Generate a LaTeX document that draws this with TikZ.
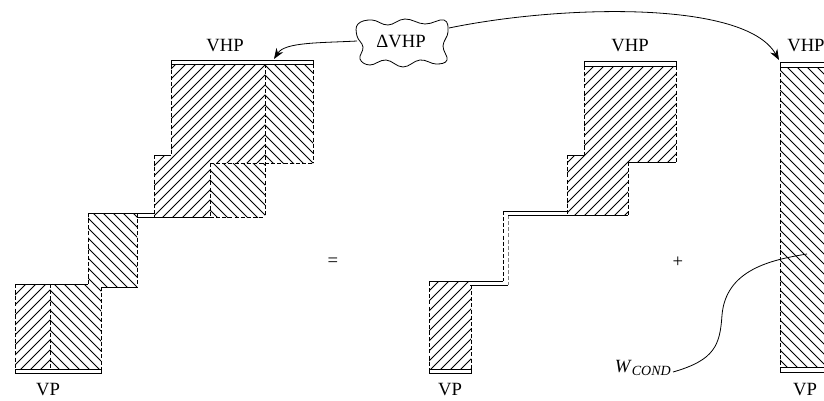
\documentclass[tikz,border=0pt]{standalone}
\usepackage{fontspec}
\setmainfont{Liberation Serif}
\usetikzlibrary{arrows.meta}
\newcommand\hNE[1]{\begin{scope}\clip #1;\foreach \hk in {-400,-390,...,830}{\draw[hatchline] (\hk,400) -- ++(400,-400);}\end{scope}}
\newcommand\hNW[1]{\begin{scope}\clip #1;\foreach \hk in {-400,-390,...,830}{\draw[hatchline] (\hk,0) -- ++(400,400);}\end{scope}}
\begin{document}
\begin{tikzpicture}[x=0.75pt,y=-0.75pt,
  edge/.style={line width=0.6pt},
  dsh/.style={line width=0.6pt,dash pattern=on 3pt off 1.6pt},
  hatchline/.style={line width=0.55pt},
  bar/.style={line width=0.6pt,fill=white},
  lbl/.style={font=\fontsize{14}{16}\selectfont, inner sep=0pt},
  arr/.style={line width=0.6pt,-{Stealth[length=8pt,width=6pt]}}]
\useasboundingbox (0,0) rectangle (824,400);
\clip (0,0) rectangle (824,400);
% ---------- left figure: hatching
\hNE{(15,284) rectangle (50,370)}
\hNW{(50,284) rectangle (101,370)}
\hNW{(88,213) -- (137,213) -- (137,287) -- (101,287) -- (101,284) -- (88,284) -- cycle}
\hNE{(171,64) -- (265,64) -- (265,163) -- (210,163) -- (210,217) -- (154,217) -- (154,155) -- (171,155) -- cycle}
\hNW{(265,64) rectangle (313,163)}
\hNW{(210,163) rectangle (265,217)}
% ---------- left figure: borders
\draw[dsh] (15,284) -- (15,370);
\draw[dsh] (50,284) -- (50,370);
\draw[dsh] (101,287) -- (101,370);
\draw[edge] (15,284) -- (88,284);
\draw[dsh] (88,213) -- (88,284);
\draw[dsh] (137,213) -- (137,287);
\draw[edge] (101,287) -- (137,287);
\draw[edge] (88,213) -- (154,213);
\draw[edge] (137,217) -- (210,217);
\draw[dsh] (210,217) -- (265,217);
\draw[dsh] (154,155) -- (154,217);
\draw[edge] (154,155) -- (171,155);
\draw[dsh] (171,64) -- (171,155);
\draw[dsh] (210,163) -- (210,217);
\draw[dsh] (210,163) -- (313,163);
\draw[dsh] (265,64) -- (265,217);
\draw[dsh] (313,64) -- (313,163);
\draw[bar] (171,60) rectangle (313,64);
\draw[bar] (15,369) rectangle (101,373);
% ---------- middle figure
\hNE{(429,282) rectangle (471,370)}
\hNE{(584,66) -- (676,66) -- (676,162) -- (628,162) -- (628,215) -- (567,215) -- (567,155) -- (584,155) -- cycle}
\draw[dsh] (429,282) -- (429,370);
\draw[dsh] (471,285) -- (471,370);
\draw[edge] (429,281) -- (503,281);
\draw[edge] (470,285) -- (508,285);
\draw[dsh] (503,211) -- (503,281);
\draw[dsh,gray] (508,215) -- (508,285);
\draw[edge] (503,211) -- (567,211);
\draw[edge] (508,215) -- (628,215);
\draw[dsh] (567,155) -- (567,215);
\draw[edge] (567,155) -- (584,155);
\draw[dsh] (584,66) -- (584,155);
\draw[dsh] (628,162) -- (628,215);
\draw[edge] (628,162) -- (676,162);
\draw[dsh] (676,66) -- (676,162);
\draw[bar] (584,61) rectangle (676,66);
\draw[bar] (429,369) rectangle (471,373);
% ---------- right figure
\hNW{(780,67) rectangle (840,367)}
\draw[dsh] (780,67) -- (780,367);
\draw[bar] (780,62) rectangle (840,67);
\draw[bar] (780,367) rectangle (840,372);
% ---------- labels
\node[lbl] (vp1) at (48,390) {VP};
\node[lbl] (vhp1) at (225,46) {VHP};
\node[lbl] (vp2) at (450,390) {VP};
\node[lbl] (vhp2) at (630,46) {VHP};
\node[lbl] (vp3) at (805,390) {VP};
\node[lbl,anchor=west] (vhp3) at (787,46) {VHP};
\node[lbl] (eq) at (333,262) {=};
\node[lbl] (pl) at (678,262) {+};
% ---------- cloud
\draw[edge] plot[smooth cycle, tension=0.7] coordinates {(358,24) (372,20) (388,25) (405,19) (425,24) (444,20) (448,32) (443,46) (447,60) (436,64) (420,60) (403,67) (386,60) (370,65) (360,59) (363,47) (357,36)};
\node[lbl] (dv) at (401,41) {ΔVHP};
\coordinate (c1) at (357,41);
\coordinate (t1) at (274,59);
\coordinate (c2) at (449,28);
\coordinate (t2) at (779,60);
\draw[arr] (c1) .. controls (320,43) and (285,42) .. (t1);
\draw[arr] (c2) .. controls (560,5) and (745,0) .. (t2);
% ---------- W_COND
\node[lbl,anchor=east] (w) at (671,368) {\textit{W}\raisebox{-0.45ex}{\fontsize{10.5}{12}\selectfont\itshape COND}};
\coordinate (ws) at (673,372);
\coordinate (we) at (807,254);
\draw[edge] (ws) .. controls (715,360) and (720,345) .. (722,315) .. controls (726,270) and (770,260) .. (we);
\end{tikzpicture}
\end{document}
